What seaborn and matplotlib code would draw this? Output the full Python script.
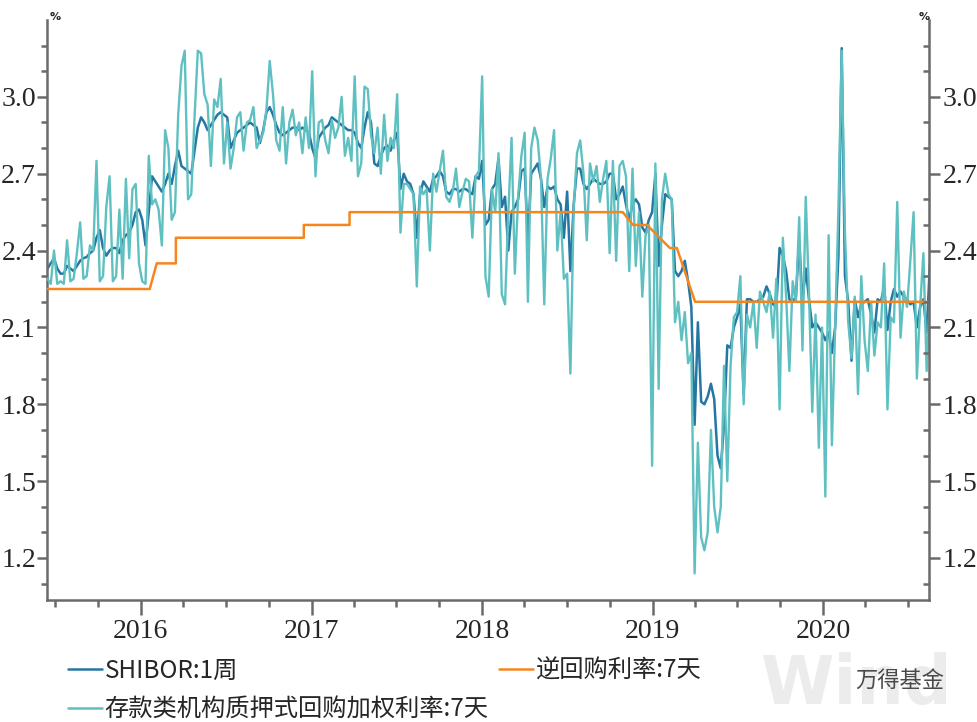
import numpy as np
import pandas as pd
import matplotlib
matplotlib.use("Agg")
import matplotlib.pyplot as plt
import matplotlib.dates as mdates
from matplotlib.ticker import FixedLocator, FormatStrFormatter
import seaborn as sns

# ---------------- data (weekly readings from the picture) ----------------
start_date = "2015-06-15"

shibor_1w = [
    2.33, 2.35, 2.37, 2.33, 2.31, 2.31, 2.34, 2.33, 2.32, 2.34,
    2.36, 2.37, 2.375, 2.39, 2.40, 2.45, 2.48, 2.41, 2.38, 2.40,
    2.41, 2.41, 2.39, 2.44, 2.46, 2.47, 2.50, 2.55, 2.56, 2.52,
    2.42, 2.55, 2.69, 2.67, 2.65, 2.63, 2.66, 2.70, 2.66, 2.73,
    2.79, 2.73, 2.72, 2.71, 2.70, 2.79, 2.88, 2.92, 2.90, 2.87,
    2.89, 2.91, 2.93, 2.94, 2.93, 2.92,
    2.80, 2.83, 2.86, 2.87, 2.88, 2.89, 2.90, 2.89, 2.88, 2.82,
    2.87, 2.94, 2.96, 2.93, 2.89, 2.86, 2.85, 2.86, 2.87, 2.88,
    2.88, 2.87, 2.88, 2.87, 2.86, 2.80, 2.76, 2.84, 2.86, 2.88,
    2.89, 2.92, 2.91, 2.90, 2.89, 2.88, 2.87, 2.87, 2.86, 2.82,
    2.80, 2.88, 2.94, 2.90, 2.74, 2.73, 2.77, 2.80, 2.81, 2.79,
    2.83, 2.86, 2.64, 2.70,
    2.67, 2.66, 2.62, 2.45, 2.62, 2.67, 2.65, 2.63, 2.68, 2.69,
    2.71, 2.69, 2.63, 2.62, 2.64, 2.64, 2.63, 2.64, 2.64, 2.63,
    2.62, 2.69, 2.68, 2.75, 2.50, 2.52, 2.64, 2.66, 2.76, 2.57,
    2.61, 2.40, 2.55, 2.57, 2.60, 2.71, 2.72, 2.44, 2.70, 2.72,
    2.74, 2.68, 2.57, 2.65, 2.64, 2.65, 2.60, 2.58, 2.45, 2.63,
    2.32, 2.58, 2.72, 2.72,
    2.66, 2.64, 2.66, 2.68, 2.67, 2.66, 2.66, 2.67, 2.70, 2.70,
    2.60, 2.62, 2.65, 2.58, 2.52, 2.58, 2.60, 2.58, 2.49, 2.47,
    2.52, 2.55, 2.70, 2.34, 2.50, 2.62, 2.61, 2.60, 2.32, 2.30,
    2.32, 2.36, 2.28, 2.18, 1.72, 2.12, 1.81, 1.80, 1.83, 1.88,
    1.82, 1.60, 1.55, 1.72, 2.03, 2.02, 2.10, 2.14, 2.19, 1.84,
    2.21, 2.21, 2.20,
    2.20, 2.21, 2.22, 2.26, 2.23, 2.19, 2.18, 2.41, 2.38, 2.32,
    2.21, 2.20, 2.22, 2.44, 2.20, 2.33, 2.21, 2.10, 2.12, 2.10,
    2.08, 2.05, 2.08, 2.00, 2.10, 2.38, 3.19, 2.30, 2.20, 1.97,
    2.21, 2.14, 2.19, 2.20, 2.21, 2.15, 2.08, 2.21, 2.20, 2.26,
    2.09, 2.20, 2.25, 2.22, 2.24, 2.22, 2.21, 2.19, 2.20, 2.10,
    2.18, 2.21, 2.08, 2.35,
]

dr007 = [
    2.29, 2.27, 2.40, 2.27, 2.28, 2.27, 2.44, 2.28, 2.29, 2.39,
    2.51, 2.29, 2.30, 2.42, 2.40, 2.75, 2.28, 2.30, 2.57, 2.69,
    2.28, 2.30, 2.56, 2.29, 2.68, 2.37, 2.64, 2.66, 2.35, 2.28,
    2.27, 2.77, 2.58, 2.60, 2.56, 2.42, 2.87, 2.80, 2.52, 2.55,
    2.93, 3.12, 3.18, 2.60, 2.62, 2.92, 3.18, 3.17, 3.01, 2.97,
    2.73, 2.99, 2.96, 3.07, 2.74, 2.90,
    2.72, 2.80, 2.92, 2.94, 2.79, 2.90, 2.91, 2.96, 2.80, 2.83,
    2.86, 2.95, 3.14, 3.01, 2.83, 2.79, 2.96, 2.74, 2.90, 2.95,
    2.85, 2.90, 2.78, 2.92, 2.80, 3.10, 2.69, 2.90, 2.91, 2.83,
    2.78, 2.91, 2.84, 2.88, 3.00, 2.77, 2.84, 2.75, 3.08, 2.69,
    2.74, 3.04, 3.03, 2.85, 2.78, 2.88, 2.70, 2.93, 2.75, 2.84,
    2.80, 3.01, 2.47, 2.66,
    2.66, 2.64, 2.62, 2.26, 2.65, 2.62, 2.64, 2.40, 2.70, 2.63,
    2.71, 2.79, 2.61, 2.59, 2.63, 2.72, 2.57, 2.63, 2.68, 2.67,
    2.45, 2.69, 2.71, 3.08, 2.30, 2.22, 2.64, 2.55, 2.78, 2.23,
    2.19, 2.55, 2.84, 2.31, 2.61, 2.77, 2.86, 2.20, 2.80, 2.88,
    2.83, 2.68, 2.19, 2.68, 2.76, 2.87, 2.40, 2.55, 2.29, 2.31,
    1.92, 2.56, 2.78, 2.83,
    2.70, 2.44, 2.74, 2.67, 2.73, 2.59, 2.68, 2.75, 2.39, 2.75,
    2.36, 2.73, 2.75, 2.69, 2.32, 2.72, 2.34, 2.55, 2.22, 2.46,
    2.50, 1.56, 2.74, 1.86, 2.60, 2.70, 2.62, 2.60, 2.12, 2.20,
    2.05, 2.16, 1.96, 2.00, 1.14, 1.65, 1.28, 1.23, 1.30, 1.70,
    1.40, 1.30, 1.40, 1.95, 1.50, 1.95, 2.14, 2.16, 2.30, 1.80,
    2.15, 2.10, 2.20,
    2.02, 2.24, 2.20, 2.16, 2.24, 2.06, 2.29, 1.78, 2.45, 2.22,
    1.93, 2.28, 2.20, 2.53, 2.01, 2.61, 2.23, 1.77, 2.15, 1.63,
    2.10, 1.44, 2.46, 1.64, 2.10, 2.56, 3.18, 2.47, 2.12, 1.98,
    2.22, 1.84, 2.30, 2.05, 1.93, 2.20, 1.99, 2.12, 2.10, 2.35,
    1.78, 2.14, 2.12, 2.59, 2.06, 2.24, 2.18, 2.36, 2.55, 1.90,
    2.18, 2.39, 1.93, 2.22,
]

reverse_repo_dates = [
    "2015-06-14", "2016-01-20", "2016-02-04", "2016-03-16", "2016-03-16",
    "2016-12-15", "2016-12-15", "2017-03-23", "2017-03-23", "2018-10-29",
    "2018-11-20", "2018-12-20", "2019-01-27", "2019-02-07", "2019-02-22",
    "2019-04-02", "2020-08-17",
]
reverse_repo_7d = [
    2.25, 2.25, 2.35, 2.35, 2.45,
    2.45, 2.50, 2.50, 2.55, 2.55,
    2.50, 2.50, 2.43, 2.41, 2.41,
    2.20, 2.20,
]

labels = ["SHIBOR:1周", "存款类机构质押式回购加权利率:7天", "逆回购利率:7天"]
y_major = [1.2, 1.5, 1.8, 2.1, 2.4, 2.7, 3.0]
y_minor = [1.1, 1.3, 1.4, 1.6, 1.7, 1.9, 2.0, 2.2, 2.3, 2.5, 2.6, 2.8, 2.9, 3.1, 3.2]

# ---------------- style ----------------
BLUE = "#2576a3"
CYAN = "#5fc0c1"
ORANGE = "#f5861f"
SPINE = "#6a6a6a"

sns.set_theme(style="white")
plt.rcParams["font.family"] = ["Liberation Serif", "DejaVu Serif"]

fig = plt.figure(figsize=(9.78, 7.22), dpi=100)
W, H = 978, 722

# watermark (behind everything)
fig.text(760 / W, 1 - 652 / H, "Wind", fontsize=48, fontweight="bold",
         family="DejaVu Sans", color="#ececec", va="top", ha="left", zorder=0)

ax = fig.add_axes([47 / W, 1 - 600 / H, (929 - 47) / W, (600 - 20) / H])
ax.patch.set_alpha(0)

dates = pd.date_range(start_date, periods=len(dr007), freq="7D")
df = pd.DataFrame({"date": dates, "shibor": shibor_1w, "dr": dr007})
rr = pd.DataFrame({"date": pd.to_datetime(reverse_repo_dates), "rate": reverse_repo_7d})

sns.lineplot(data=df, x="date", y="shibor", ax=ax, color=BLUE, linewidth=1.8,
             estimator=None, sort=False, legend=False, zorder=2)
sns.lineplot(data=df, x="date", y="dr", ax=ax, color=CYAN, linewidth=1.7,
             estimator=None, sort=False, legend=False, zorder=3)
sns.lineplot(data=rr, x="date", y="rate", ax=ax, color=ORANGE, linewidth=1.8,
             estimator=None, sort=False, legend=False, zorder=4)

ymin, ymax = 1.036, 3.30
ax.set_xlim(pd.Timestamp("2015-06-14"), pd.Timestamp("2020-08-15"))
ax.set_ylim(ymin, ymax)
ax.set_xlabel("")
ax.set_ylabel("")
ax.grid(False)

ax.xaxis.set_major_locator(mdates.YearLocator())
ax.xaxis.set_major_formatter(mdates.DateFormatter("%Y"))
ax.xaxis.set_minor_locator(mdates.MonthLocator(bymonth=[4, 7, 10]))
ax.yaxis.set_major_locator(FixedLocator(y_major))
ax.yaxis.set_minor_locator(FixedLocator(y_minor))
ax.yaxis.set_major_formatter(FormatStrFormatter("%.1f"))

ax.tick_params(axis="x", which="major", direction="out", length=11, width=1.8,
               color=SPINE, labelsize=20, pad=3, bottom=True)
ax.tick_params(axis="x", which="minor", direction="out", length=5, width=1.8,
               color=SPINE, bottom=True)
ax.tick_params(axis="y", which="major", direction="out", length=7, width=1.8,
               color=SPINE, labelsize=20, pad=1, left=True)
ax.tick_params(axis="y", which="minor", direction="out", length=4, width=1.8,
               color=SPINE, left=True)

for s in ["top", "right"]:
    ax.spines[s].set_visible(False)
for s in ["left", "bottom"]:
    ax.spines[s].set_color(SPINE)
    ax.spines[s].set_linewidth(1.8)

ax2 = ax.twinx()
ax2.set_ylim(ymin, ymax)
ax2.grid(False)
ax2.yaxis.set_major_locator(FixedLocator(y_major))
ax2.yaxis.set_minor_locator(FixedLocator(y_minor))
ax2.yaxis.set_major_formatter(FormatStrFormatter("%.1f"))
ax2.tick_params(axis="y", which="major", direction="out", length=8, width=1.8,
                color=SPINE, labelsize=20, pad=2, right=True)
ax2.tick_params(axis="y", which="minor", direction="in", length=4, width=1.8,
                color=SPINE, right=True)
for s in ["top", "left", "bottom"]:
    ax2.spines[s].set_visible(False)
ax2.spines["right"].set_color(SPINE)
ax2.spines["right"].set_linewidth(1.8)

# unit markers
fig.text(50 / W, 1 - 22 / H, "%", fontsize=8, fontweight="bold",
         family="DejaVu Sans", color="#222222", va="bottom", ha="left")
fig.text(919 / W, 1 - 22 / H, "%", fontsize=8, fontweight="bold",
         family="DejaVu Sans", color="#222222", va="bottom", ha="left")

fig.text(855 / W, 1 - 681 / H, "万得基金", fontsize=16,
         family=["Noto Sans CJK SC", "DejaVu Sans"], color="#4a4a4a",
         va="center", ha="left")

# legend
handles = [
    plt.Line2D([], [], color=BLUE, linewidth=1.8),
    plt.Line2D([], [], color=CYAN, linewidth=1.8),
    plt.Line2D([], [], color=ORANGE, linewidth=1.8),
]
fig.legend(handles, labels, loc="upper left",
           bbox_to_anchor=(68 / W, 1 - 658 / H), ncol=2, frameon=False,
           prop={"family": ["Noto Sans CJK SC", "DejaVu Sans"], "size": 17.5},
           handlelength=1.4, handletextpad=0.1, columnspacing=0.45,
           labelspacing=0.5, borderpad=0, borderaxespad=0)

fig.savefig("out.png", dpi=100)
